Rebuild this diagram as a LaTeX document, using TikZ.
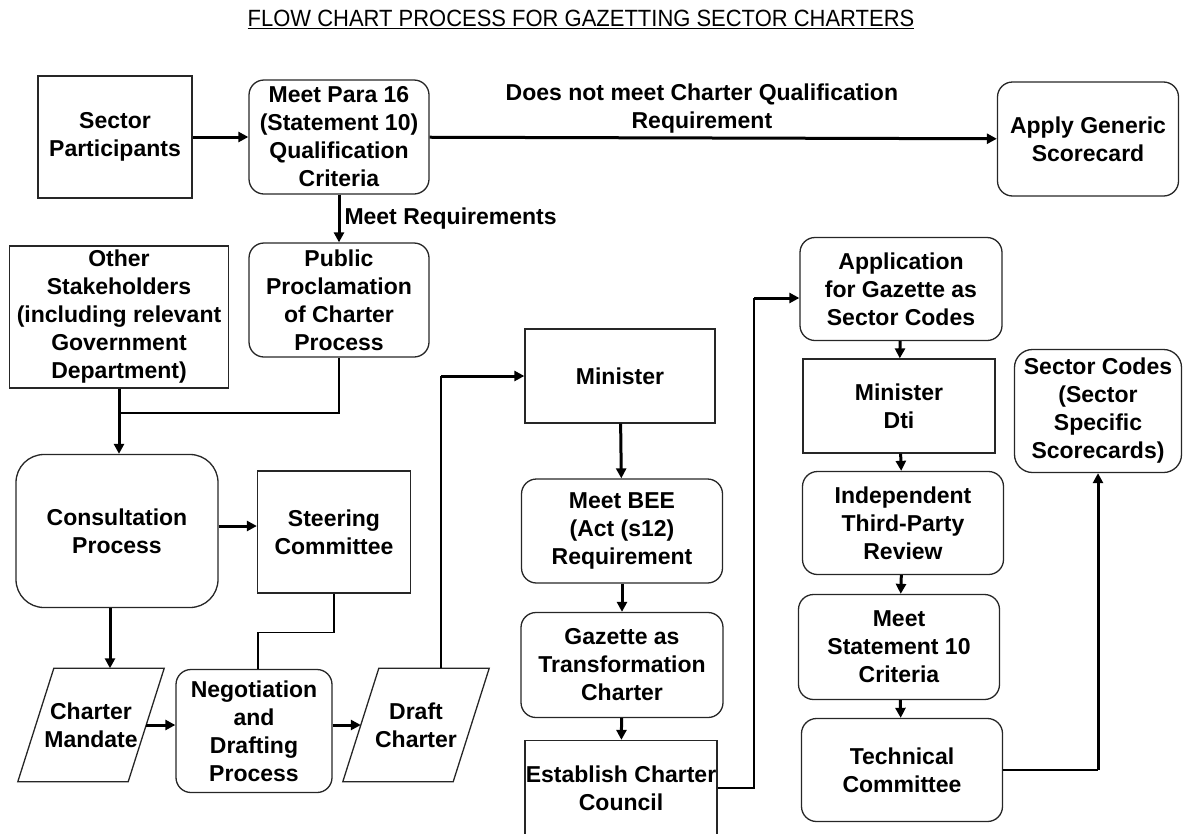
\documentclass[tikz,border=0pt]{standalone}
\usepackage{fontspec}
\setmainfont{Liberation Sans}
\newfontfamily\titlefont[FakeStretch=0.935]{Liberation Sans}
\usetikzlibrary{arrows.meta}

\begin{document}
\begin{tikzpicture}[x=1pt, y=-1pt,
  txt/.style = {font=\fontsize{23}{28}\selectfont\bfseries, align=center, inner sep=0pt},
  sqbox/.style = {txt, rectangle, draw=black!85, line width=1.3pt},
  rndbox/.style = {sqbox, rounded corners=15pt},
  slantbox/.style = {txt, minimum width=110pt, minimum height=113pt,
    append after command={\pgfextra{\draw[draw=black!85, line width=1.3pt]
      ([xshift=18pt]\tikzlastnode.north west) -- ([xshift=18pt]\tikzlastnode.north east)
      -- ([xshift=-18pt]\tikzlastnode.south east) -- ([xshift=-18pt]\tikzlastnode.south west) -- cycle;}}},
  link/.style = {line width=1.4pt},
  arr/.style = {line width=3pt, -{Triangle[length=10pt,width=10pt]}}]

\useasboundingbox (0,0) rectangle (1183,833);
\clip (0,0) rectangle (1183,833);

\node[font=\titlefont\fontsize{23.5}{28}\selectfont, inner sep=0pt] (title) at (581,19) {\underline{FLOW CHART PROCESS FOR GAZETTING SECTOR CHARTERS}};

\node[sqbox, minimum width=154pt, minimum height=122pt] (part) at (115,137) {Sector\\Participants};
\node[rndbox, minimum width=180pt, minimum height=114pt] (para) at (339,137) {Meet Para 16\\(Statement 10)\\Qualification\\Criteria};
\node[rndbox, minimum width=181pt, minimum height=114pt] (generic) at (1088,139) {Apply Generic\\Scorecard};
\node[rndbox, minimum width=180pt, minimum height=114pt] (procl) at (339,300) {Public\\Proclamation\\of Charter\\Process};
\node[sqbox, minimum width=219pt, minimum height=142pt] (other) at (119,317) {Other\\Stakeholders\\(including relevant\\Government\\Department)};
\node[rndbox, rounded corners=28pt, minimum width=202pt, minimum height=153pt] (consult) at (117,531) {Consultation\\Process};
\node[sqbox, minimum width=153pt, minimum height=122pt] (steer) at (334,532) {Steering\\Committee};
\node[slantbox] (mandate) at (91,725) {Charter\\Mandate};
\node[rndbox, minimum width=156pt, minimum height=123pt] (nego) at (254,731) {Negotiation\\and\\Drafting\\Process};
\node[slantbox] (draft) at (416,725) {Draft\\Charter};

\node[sqbox, minimum width=190pt, minimum height=94pt] (minister) at (620,376) {Minister};
\node[rndbox, minimum width=201pt, minimum height=104pt] (bee) at (622,531) {Meet BEE\\(Act (s12)\\Requirement};
\node[rndbox, minimum width=202pt, minimum height=105pt] (gazette) at (622,665) {Gazette as\\Transformation\\Charter};
\node[sqbox, minimum width=192pt, minimum height=95pt] (council) at (621,788) {Establish Charter\\Council};

\node[rndbox, minimum width=202pt, minimum height=103pt] (appl) at (901,289) {Application\\for Gazette as\\Sector Codes};
\node[sqbox, minimum width=192pt, minimum height=94pt] (dti) at (899,406) {Minister\\Dti};
\node[rndbox, minimum width=201pt, minimum height=103pt] (review) at (903,523) {Independent\\Third-Party\\Review};
\node[rndbox, minimum width=201pt, minimum height=105pt] (stmt) at (899,647) {Meet\\Statement 10\\Criteria};
\node[rndbox, minimum width=201pt, minimum height=103pt] (tech) at (902,770) {Technical\\Committee};
\node[rndbox, rounded corners=18pt, minimum width=167pt, minimum height=123pt] (codes) at (1098,411) {Sector Codes\\(Sector\\Specific\\Scorecards)};

\coordinate (merge) at (119,413);
\coordinate (bend1) at (441,376);
\coordinate (bend2) at (754,298);
\coordinate (bend3) at (tech.east -| codes.south);

\draw[arr] (part) -- (para);
\draw[arr] (para) -- node[txt, above=3pt, pos=0.48] (nomeet) {Does not meet Charter Qualification\\Requirement} (generic);
\draw[arr] (para) -- node[txt, right=4pt] (meetreq) {Meet Requirements} (procl);
\draw[link] (procl.south) |- (merge);
\draw[arr] (other.south) -- (other.south |- consult.north);
\draw[arr] ([yshift=5pt]consult.east) -- ([yshift=5pt]consult.east -| steer.west);
\draw[link] (steer.south) -- ++(0,39) -| ([xshift=4pt]nego.north);
\draw[arr] ([xshift=-7pt]consult.south) -- ([xshift=-7pt]consult.south |- mandate.north);
\draw[arr] (mandate.east) -- (mandate.east -| nego.west);
\draw[arr] (nego.east |- draft.west) -- (draft.west);
\draw[link] (bend1 |- draft.north) -- (bend1);
\draw[arr] (bend1) -- (minister.west);

\draw[arr] (minister) -- (bee);
\draw[arr] (bee) -- (gazette);
\draw[arr] (gazette) -- (council);
\draw[link] (council.east) -| (bend2);
\draw[arr] (bend2) -- (bend2 -| appl.west);

\draw[arr] (appl) -- (dti);
\draw[arr] (dti) -- (review);
\draw[arr] (review) -- (stmt);
\draw[arr] (stmt) -- (tech);
\draw[link] (tech.east) -- (bend3);
\draw[arr] (bend3) -- (codes.south);

\end{tikzpicture}
\end{document}
